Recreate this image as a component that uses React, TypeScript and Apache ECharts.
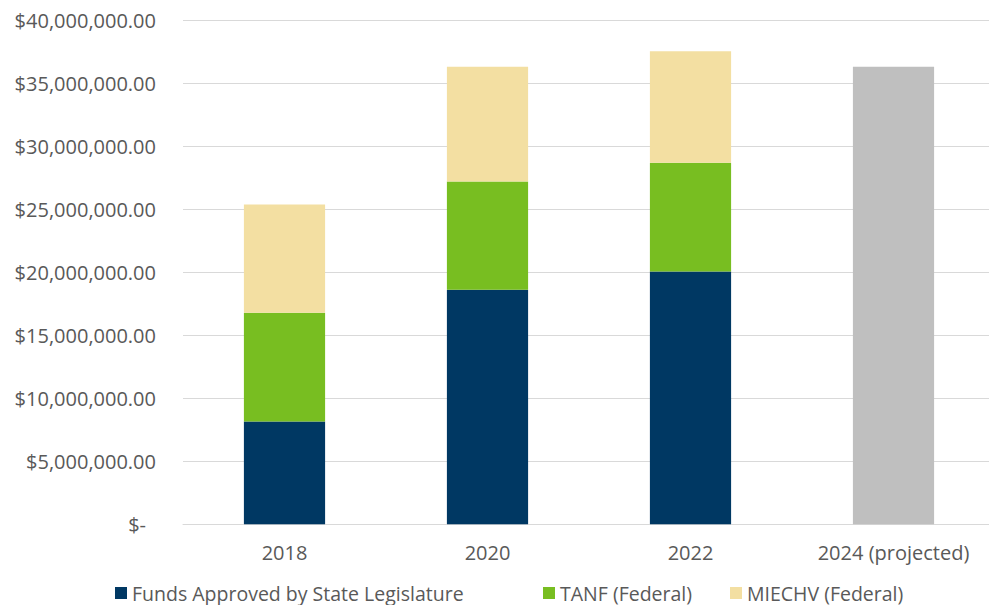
import React, { useEffect, useRef } from "react";
import * as echarts from "echarts";

const categories = ["2018", "2020", "2022", "2024 (projected)"];
const stateFunds = [8170000, 18630000, 20080000, "-"];
const tanf = [8630000, 8590000, 8630000, "-"];
const miechv = [8600000, 9130000, 8860000, "-"];
const projected = ["-", "-", "-", 36350000];
const seriesNames = ["Funds Approved by State Legislature", "TANF (Federal)", "MIECHV (Federal)", "2024 (projected)"];

const FONT = "'Open Sans', 'Liberation Sans', sans-serif";
const TXT = "#595959";

function fmt(v: number) {
  if (v === 0) return "{z|$-}";
  return "$" + v.toLocaleString("en-US", { minimumFractionDigits: 2, maximumFractionDigits: 2 });
}

export default function App() {
  const ref = useRef<HTMLDivElement>(null);
  useEffect(() => {
    const chart = echarts.init(ref.current!, null, { renderer: "svg" });
    const legendBase = {
      orient: "horizontal",
      top: 583,
      padding: 0,
      icon: "rect",
      itemWidth: 12,
      itemHeight: 12,
      textStyle: { color: TXT, fontSize: 19.5, fontFamily: FONT, lineHeight: 20 },
    };
    chart.setOption({
      animation: false,
      backgroundColor: "#ffffff",
      grid: { left: 183, top: 20.7, width: 812, height: 503.6, containLabel: false },
      legend: [
        { ...legendBase, left: 115, data: [seriesNames[0]] },
        { ...legendBase, left: 543, data: [seriesNames[1]] },
        { ...legendBase, left: 730, data: [seriesNames[2]] },
      ],
      xAxis: {
        type: "category",
        data: categories,
        axisLine: { show: true, lineStyle: { color: "#d9d9d9", width: 1 } },
        axisTick: { show: false },
        axisLabel: { color: TXT, fontSize: 20, fontFamily: FONT, margin: 18 },
      },
      yAxis: {
        type: "value",
        min: 0,
        max: 40000000,
        interval: 5000000,
        axisLine: { show: false },
        axisTick: { show: false },
        splitLine: { lineStyle: { color: "#d9d9d9", width: 1 } },
        axisLabel: {
          color: TXT,
          fontSize: 20,
          fontFamily: FONT,
          margin: 27,
          formatter: fmt,
          rich: { z: { color: TXT, fontSize: 20, fontFamily: FONT, padding: [0, 10, 0, 0] } },
        },
      },
      series: [
        { name: seriesNames[0], type: "bar", stack: "s", data: stateFunds, barWidth: "40%", itemStyle: { color: "#003863" } },
        { name: seriesNames[1], type: "bar", stack: "s", data: tanf, itemStyle: { color: "#78BE21" } },
        { name: seriesNames[2], type: "bar", stack: "s", data: miechv, itemStyle: { color: "#F3DFA2" } },
        { name: seriesNames[3], type: "bar", stack: "s", data: projected, itemStyle: { color: "#BFBFBF" } },
      ],
    });
    return () => chart.dispose();
  }, []);
  return (
    <div style={{ position: "absolute", left: 0, top: 0, width: 989, height: 605, overflow: "hidden", background: "#fff" }}>
      <div ref={ref} style={{ position: "absolute", left: 0, top: 0, width: 996, height: 605 }} />
    </div>
  );
}
